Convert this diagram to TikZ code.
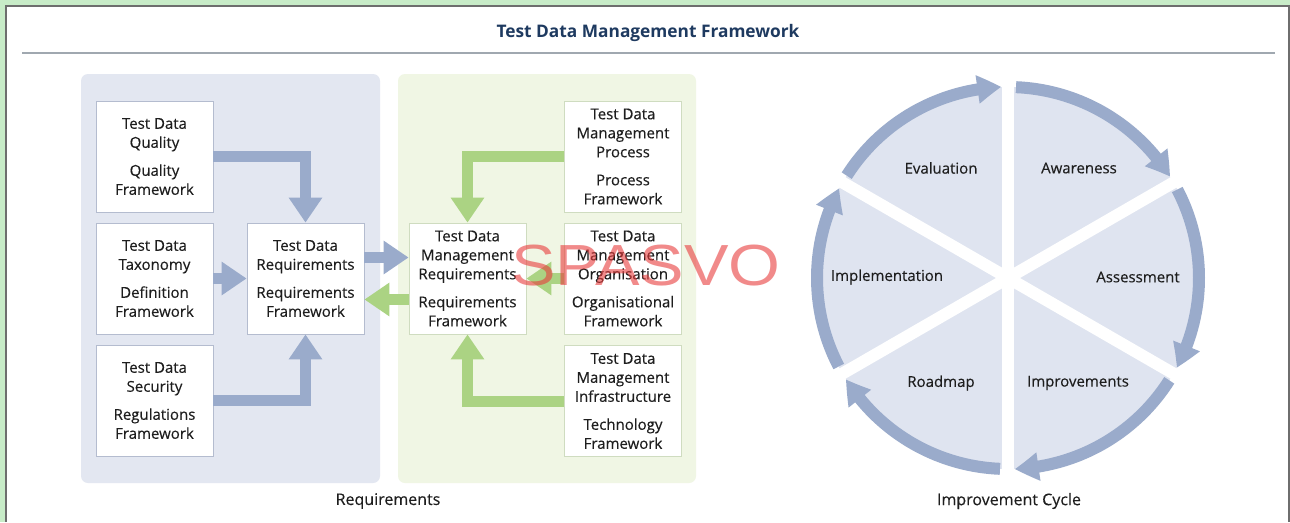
\documentclass[tikz,border=0pt]{standalone}
\usepackage{fontspec}
\setmainfont{Open Sans}
\newfontfamily\labelfont{Open Sans}[FakeBold=0.3]
\newfontfamily\stampfont{Liberation Sans}
\usetikzlibrary{arrows.meta,bending}

\definecolor{pagegreen}{HTML}{C8ECC8}
\definecolor{framegray}{HTML}{6E6E6E}
\definecolor{rulegray}{HTML}{A0A8B0}
\definecolor{titleblue}{HTML}{1E3A60}
\definecolor{txt}{HTML}{1E1E1E}
\definecolor{reqpanel}{HTML}{E3E7F1}
\definecolor{mgmtpanel}{HTML}{F0F6E4}
\definecolor{flowblue}{HTML}{9AABCB}
\definecolor{flowgreen}{HTML}{ABD383}
\definecolor{boxblue}{HTML}{B4BCCF}
\definecolor{boxgreen}{HTML}{CFDCC0}
\definecolor{sector}{HTML}{DFE4F0}
\definecolor{stamp}{HTML}{E83C3C}

\begin{document}
\begin{tikzpicture}[x=1pt,y=-1pt,
  lbl/.style={font=\labelfont\fontsize{15}{19}\selectfont, text=txt},
  caption/.style={font=\labelfont\fontsize{16}{19}\selectfont, text=txt},
  fbox/.style={lbl, draw, fill=white, line width=0.8pt, minimum width=117pt,
    minimum height=111pt, inner xsep=1pt, align=center},
  reqbox/.style={fbox, draw=boxblue},
  mgmtbox/.style={fbox, draw=boxgreen},
  bflow/.style={draw=flowblue, line width=11pt, -{Triangle[width=32pt,length=25pt]}},
  gflow/.style={draw=flowgreen, line width=11pt, -{Triangle[width=32pt,length=25pt]}},
  cflow/.style={draw=flowblue, line width=12pt, -{Triangle[width=27pt,length=24pt,bend]}},
  panel/.style={rounded corners=7pt},
]
\useasboundingbox (0,0) rectangle (1290,522);

% page and frame
\fill[pagegreen] (0,0) rectangle (1290,522);
\fill[white] (6,6) rectangle (1290,522);
\draw[framegray, line width=2pt] (6,522) -- (6,6) -- (1289,6) -- (1289,522);

% title
\node[font=\fontsize{17.3}{20}\selectfont\bfseries, text=titleblue] (title) at (648,33) {Test Data Management Framework};
\draw[rulegray, line width=1.5pt] (22,53) -- (1275,53);

% panels
\fill[reqpanel, panel] (81,74) rectangle (380,483);
\fill[mgmtpanel, panel] (398,74) rectangle (696,483);

% requirement boxes
\node[reqbox] (Q) at (154.5,156.5) {Test Data\\Quality\\[9pt]Quality\\Framework};
\node[reqbox] (T) at (154.5,278.5) {Test Data\\Taxonomy\\[9pt]Definition\\Framework};
\node[reqbox] (S) at (154.5,400.5) {Test Data\\Security\\[9pt]Regulations\\Framework};
\node[reqbox] (R) at (305.5,278.5) {Test Data\\Requirements\\[9pt]Requirements\\Framework};

% management boxes
\node[mgmtbox] (M) at (467.5,278.5) {Test Data\\Management\\Requirements\\[9pt]Requirements\\Framework};
\node[mgmtbox] (P) at (623,156.5) {Test Data\\Management\\Process\\[9pt]Process\\Framework};
\node[mgmtbox] (O) at (623,278.5) {Test Data\\Management\\Organisation\\[9pt]Organisational\\Framework};
\node[mgmtbox] (I) at (623,401) {Test Data\\Management\\Infrastructure\\[9pt]Technology\\Framework};

% flows into the requirements framework
\draw[bflow] (Q.east) -| (R.north);
\draw[bflow] (T.east) -- (R.west);
\draw[bflow] (S.east) -| (R.south);
\draw[bflow] ([yshift=21pt]R.east) -- ([yshift=21pt]M.west);
\draw[gflow] ([yshift=-21pt]M.west) -- ([yshift=-21pt]R.east);

% flows into the management requirements
\draw[gflow] (P.west) -| (M.north);
\draw[gflow] (O.west) -- (M.east);
\draw[gflow] (I.west) -| (M.south);

\node[caption] (reqcap) at (388,501) {Requirements};

% improvement cycle
\begin{scope}[shift={(1008,278)}, y=1pt]
  \fill[sector] (0,0) circle[radius=191];
  \foreach \a in {90,30,-30}
    \draw[white, line width=12pt] (\a:192) -- (\a+180:192);
  \foreach \a in {90,30,-30,-90,-150,-210}
    \draw[cflow] (\a-2.4:191) arc[start angle=\a-2.4, end angle=\a-58, radius=191];
\end{scope}

\node[lbl] (awa) at (1079,168) {Awareness};
\node[lbl] (eva) at (941,168) {Evaluation};
\node[lbl] (imp) at (887,277) {Implementation};
\node[lbl] (ass) at (1138,277) {Assessment};
\node[lbl] (road) at (941,383) {Roadmap};
\node[lbl] (impr) at (1078,383) {Improvements};
\node[caption] (cyc) at (1009,501) {Improvement Cycle};

% stamp
\node[font=\stampfont\fontsize{58}{58}\selectfont, text=stamp, opacity=0.6,
  anchor=base, xscale=1.15, inner sep=0pt] (stampmark) at (646,285) {SPASVO};
\end{tikzpicture}
\end{document}
